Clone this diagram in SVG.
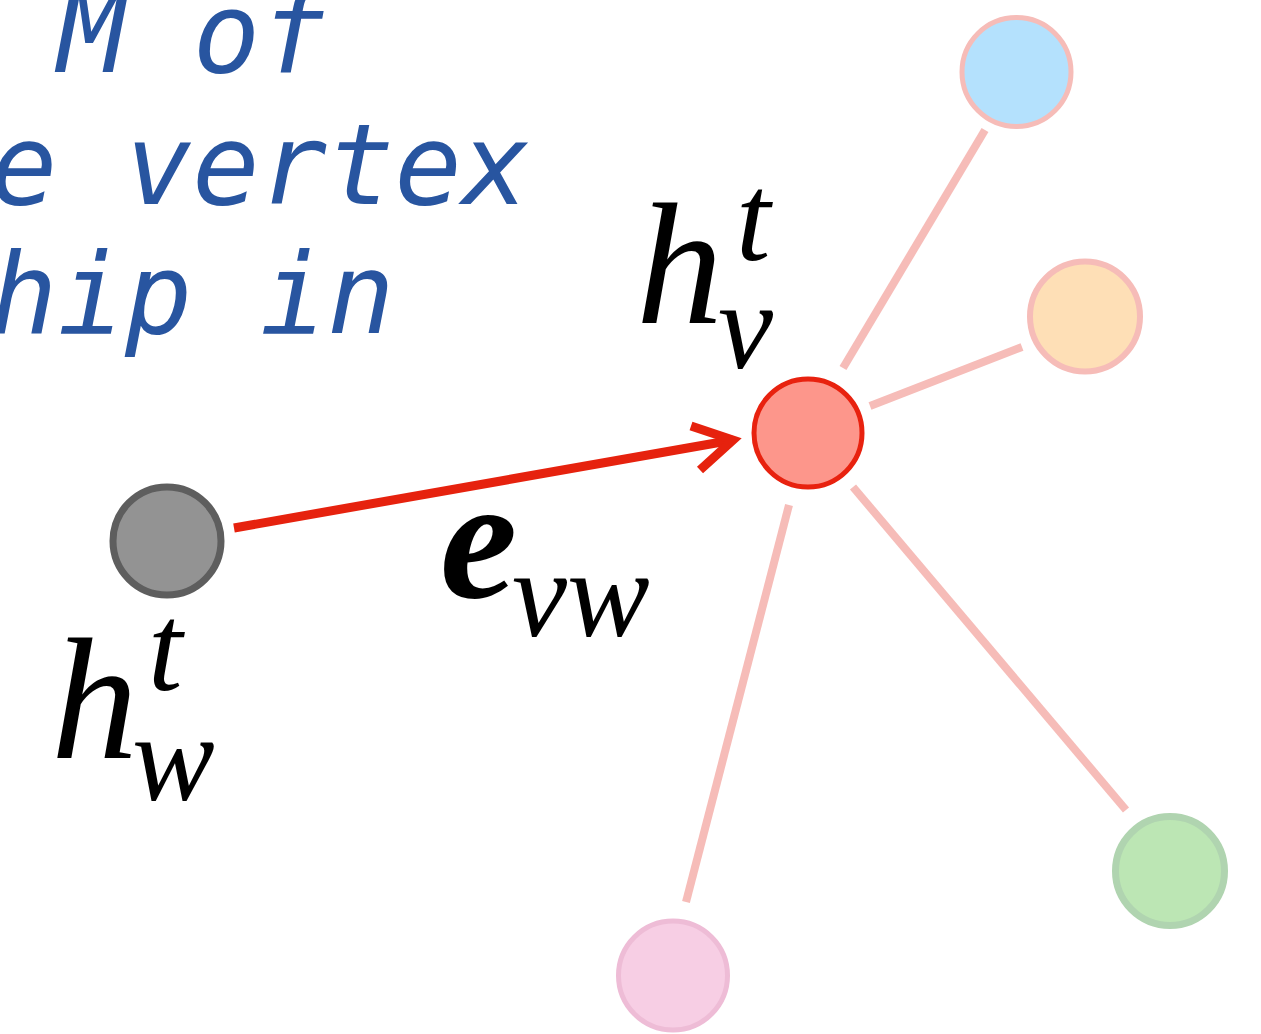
<svg xmlns="http://www.w3.org/2000/svg" width="1261" height="1034" viewBox="0 0 1261 1034">
<style>
.note{font-family:"DejaVu Sans Mono",monospace;font-style:oblique;font-size:112px;fill:#2855a0}
.big{font-family:"Liberation Serif",serif;font-style:italic;font-size:174px;fill:#000}
.bold{font-weight:bold}
.sm{font-family:"Liberation Serif",serif;font-style:italic;font-size:124px;fill:#000}
.edge{stroke:#f6bcb8;stroke-width:8;fill:none}
</style>
<rect width="1261" height="1034" fill="#fff"/>
<g id="note">
<text class="note" x="58" y="72">M of</text>
<text class="note" x="-10" y="204">e vertex</text>
<text class="note" x="-10" y="333">hip in</text>
</g>
<g id="connectors">
<line class="edge" x1="843" y1="368" x2="985" y2="130"/>
<line class="edge" x1="870" y1="406" x2="1022" y2="347"/>
<line class="edge" x1="853" y1="487" x2="1126" y2="810"/>
<line class="edge" x1="789" y1="505" x2="686" y2="902"/>
<g stroke="#e6220e" stroke-width="9" fill="none">
<line x1="234" y1="528" x2="733" y2="440"/>
<polyline points="691,426 733,440 700,470"/>
</g>
</g>
<g id="node-w">
<circle cx="167" cy="541" r="54" fill="#939393" stroke="#5e5e5e" stroke-width="7"/>
</g>
<g id="node-v">
<circle cx="808" cy="433" r="54" fill="#fd968b" stroke="#e8220f" stroke-width="5"/>
</g>
<g id="node-blue">
<circle cx="1016.5" cy="72" r="54.5" fill="#b4e1fd" stroke="#f6bcb8" stroke-width="5"/>
</g>
<g id="node-orange">
<circle cx="1085" cy="316.5" r="55" fill="#fedfb6" stroke="#f6bcb8" stroke-width="6"/>
</g>
<g id="node-green">
<circle cx="1170" cy="871" r="54.5" fill="#bce6b4" stroke="#b0d4b0" stroke-width="7"/>
</g>
<g id="node-pink">
<circle cx="673" cy="975.5" r="54.5" fill="#f7cee4" stroke="#eebcd6" stroke-width="5"/>
</g>
<g id="label-hv">
<text class="big" x="636" y="323">h</text>
<text class="sm" x="736" y="260">t</text>
<text class="sm" x="718" y="368">v</text>
</g>
<g id="label-hw">
<text class="big" x="51" y="758">h</text>
<text class="sm" x="148" y="690">t</text>
<text class="sm" x="132" y="800">w</text>
</g>
<g id="label-evw">
<text class="big bold" x="440" y="597">e</text>
<text class="sm" x="512" y="636">vw</text>
</g>
</svg>
